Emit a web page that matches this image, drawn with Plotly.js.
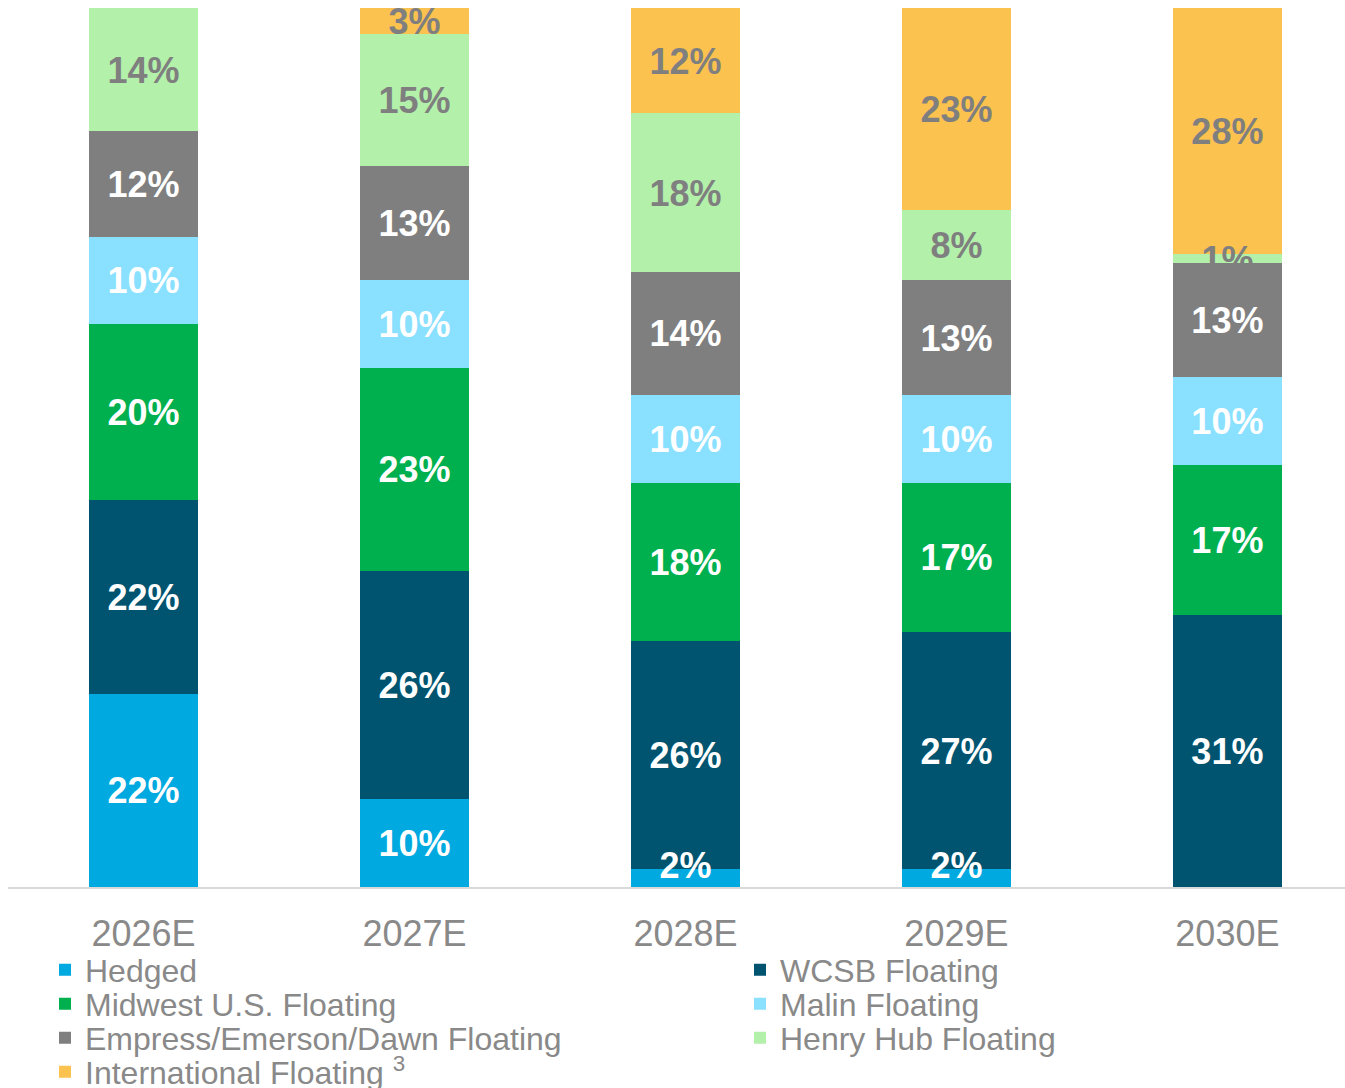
<!DOCTYPE html>
<html>
<head>
<meta charset="utf-8">
<script src="https://cdn.plot.ly/plotly-3.0.1.min.js"></script>
<style>html,body{margin:0;padding:0;background:#fff;}#chart{width:1345px;height:1088px;}</style>
</head>
<body>
<div id="chart"></div>
<script>
const years = ["2026E", "2027E", "2028E", "2029E", "2030E"];
const seriesNames = ["Hedged", "WCSB Floating", "Midwest U.S. Floating", "Malin Floating",
  "Empress/Emerson/Dawn Floating", "Henry Hub Floating", "International Floating <sup>3</sup>"];
const hedged    = [22, 10, 2, 2, null];
const wcsb      = [22, 26, 26, 27, 31];
const midwest   = [20, 23, 18, 17, 17];
const malin     = [10, 10, 10, 10, 10];
const empress   = [12, 13, 14, 13, 13];
const henryHub  = [14, 15, 18, 8, 1];
const intl      = [null, 3, 12, 23, 28];

const seriesValues = [hedged, wcsb, midwest, malin, empress, henryHub, intl];
const colors = ["#00a9e0", "#00546f", "#00b04f", "#8ae0ff", "#7f7f7f", "#b3f1ab", "#fcc24f"];
const textColors = ["#ffffff", "#ffffff", "#ffffff", "#ffffff", "#ffffff", "#7f7f7f", "#7f7f7f"];

const FONT = "Liberation Sans, Arial, sans-serif";
const W = 1345, H = 1088, ML = 8, MT = 8, MB = 201;
const PW = W - ML, PH = H - MT - MB;
const LABEL_SHIFT = 4 / PH * 100; // nudge labels ~4px down to optically centre them

// legend placement: [column x px, row center y px]
const legendSpots = [[45, 970], [740, 970], [45, 1004], [740, 1004], [45, 1038], [740, 1038], [45, 1072]];

const traces = [];
const legends = {};
seriesValues.forEach((vals, i) => {
  const lid = i === 0 ? "legend" : "legend" + (i + 1);
  traces.push({
    type: "bar",
    name: seriesNames[i],
    x: years,
    y: vals,
    marker: {color: colors[i], line: {width: 0}},
    hoverinfo: "skip",
    legend: lid
  });
  legends[lid] = {
    orientation: "h",
    x: (legendSpots[i][0] - ML) / PW,
    xanchor: "left",
    y: (H - MB - legendSpots[i][1]) / PH,
    yanchor: "middle",
    font: {family: FONT, size: 32, color: "#898989"},
    bgcolor: "rgba(0,0,0,0)",
    itemclick: false
  };
});

// label overlay: midpoint of each stacked segment, drawn above all bars
const base = years.map(() => 0);
seriesValues.forEach((vals, i) => {
  const ys = [], txt = [], pos = [];
  vals.forEach((v, j) => {
    if (v === null) { ys.push(null); txt.push(""); pos.push("middle center"); return; }
    if (v < 5 && base[j] === 0) { ys.push(base[j]); pos.push("top center"); }
    else { ys.push(base[j] + v / 2 - LABEL_SHIFT); pos.push("middle center"); }
    txt.push(v + "%");
    base[j] += v;
  });
  traces.push({
    type: "scatter",
    mode: "text",
    x: years,
    y: ys,
    text: txt,
    textposition: pos,
    textfont: {family: FONT, size: 36, color: textColors[i], weight: "bold"},
    showlegend: false,
    hoverinfo: "skip",
    cliponaxis: false
  });
});

const layout = Object.assign({
  width: W,
  height: H,
  margin: {l: ML, r: 0, t: MT, b: MB, autoexpand: false},
  paper_bgcolor: "#ffffff",
  plot_bgcolor: "#ffffff",
  barmode: "stack",
  bargap: 0.6,
  showlegend: true,
  xaxis: {
    type: "category",
    range: [-0.5, 4.434],
    showline: true,
    linecolor: "#d9d9d9",
    linewidth: 2,
    showgrid: false,
    zeroline: false,
    ticks: "",
    tickfont: {family: FONT, size: 36, color: "#898989"},
    ticklabelstandoff: 14,
    fixedrange: true
  },
  yaxis: {
    range: [0, 100],
    visible: false,
    showgrid: false,
    zeroline: false,
    fixedrange: true
  }
}, legends);

Plotly.newPlot("chart", traces, layout, {displayModeBar: false, staticPlot: true});
</script>
</body>
</html>
